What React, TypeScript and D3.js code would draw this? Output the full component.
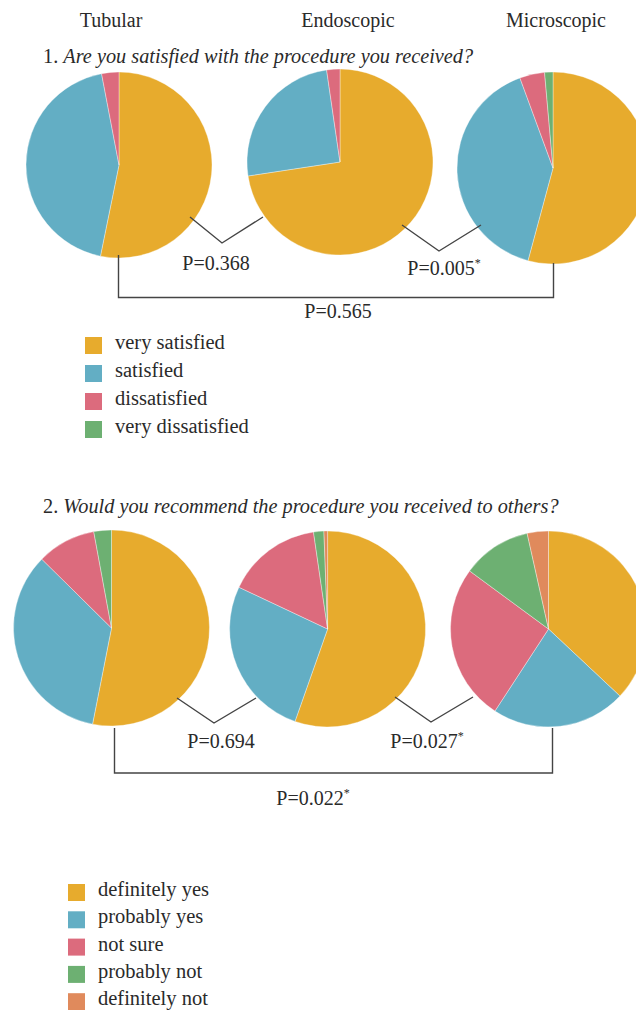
import React, { useEffect, useRef } from 'react';
import * as d3 from 'd3';

// group headers
const groups = ['Tubular', 'Endoscopic', 'Microscopic'];

// question 1
const q1Title = 'Are you satisfied with the procedure you received?';
const q1Categories = ['very satisfied', 'satisfied', 'dissatisfied', 'very dissatisfied'];
const q1Tubular = [53.2, 43.8, 3.0, 0];
const q1Endoscopic = [72.6, 25.1, 2.3, 0];
const q1Microscopic = [54.2, 40.2, 4.2, 1.4];
const q1PValues = [
  { text: 'P=0.368', star: false },
  { text: 'P=0.005', star: true },
  { text: 'P=0.565', star: false },
];

// question 2
const q2Title = 'Would you recommend the procedure you received to others?';
const q2Categories = ['definitely yes', 'probably yes', 'not sure', 'probably not', 'definitely not'];
const q2Tubular = [53.1, 34.3, 9.7, 2.9, 0];
const q2Endoscopic = [55.4, 26.6, 15.7, 1.7, 0.6];
const q2Microscopic = [37.0, 22.2, 25.9, 11.4, 3.5];
const q2PValues = [
  { text: 'P=0.694', star: false },
  { text: 'P=0.027', star: true },
  { text: 'P=0.022', star: true },
];

const palette = ['#E7AB2D', '#63AEC4', '#DC6B7D', '#6DB072', '#E08A5C'];

const W = 636;
const H = 1010;
const FONT = '"Liberation Serif", "DejaVu Serif", serif';
const INK = '#2a2a2a';

const App: React.FC = () => {
  const ref = useRef<SVGSVGElement | null>(null);

  useEffect(() => {
    if (!ref.current) return;
    const svg = d3.select(ref.current);
    svg.selectAll('*').remove();

    const pie = d3.pie<number>().sort(null).value((d) => d);

    const drawPie = (values: number[], cx: number, cy: number, r: number) => {
      const arc = d3.arc<d3.PieArcDatum<number>>().innerRadius(0).outerRadius(r);
      const g = svg.append('g').attr('transform', `translate(${cx},${cy})`);
      g.selectAll('path')
        .data(pie(values).filter((d) => d.value > 0))
        .enter()
        .append('path')
        .attr('d', arc)
        .attr('fill', (d) => palette[d.index])
        .attr('stroke', 'rgba(255,255,255,0.6)')
        .attr('stroke-width', 0.6);
    };

    const line = d3.line<[number, number]>();
    const drawPath = (pts: [number, number][]) => {
      svg
        .append('path')
        .attr('d', line(pts))
        .attr('fill', 'none')
        .attr('stroke', '#444')
        .attr('stroke-width', 1.4);
    };

    const pLabel = (p: { text: string; star: boolean }, x: number, y: number) => {
      const t = svg
        .append('text')
        .attr('x', x)
        .attr('y', y)
        .attr('text-anchor', 'middle')
        .attr('font-family', FONT)
        .attr('font-size', 20)
        .attr('fill', INK);
      t.append('tspan').text(p.text);
      if (p.star) {
        t.append('tspan').attr('font-size', 12).attr('dy', -8).text('*');
      }
    };

    const title = (num: string, text: string, y: number) => {
      const t = svg
        .append('text')
        .attr('x', 43)
        .attr('y', y)
        .attr('font-family', FONT)
        .attr('font-size', 20.3)
        .attr('fill', INK);
      t.append('tspan').text(num + ' ');
      t.append('tspan').attr('font-style', 'italic').text(text);
    };

    const legend = (cats: string[], x: number, y0: number, step: number) => {
      cats.forEach((c, i) => {
        const y = y0 + i * step;
        svg
          .append('rect')
          .attr('x', x)
          .attr('y', y - 12)
          .attr('width', 17)
          .attr('height', 17)
          .attr('fill', palette[i]);
        svg
          .append('text')
          .attr('x', x + 30)
          .attr('y', y)
          .attr('font-family', FONT)
          .attr('font-size', 20.5)
          .attr('fill', INK)
          .text(c);
      });
    };

    // headers
    const headerX = [111, 348, 556];
    groups.forEach((g, i) => {
      svg
        .append('text')
        .attr('x', headerX[i])
        .attr('y', 27)
        .attr('text-anchor', 'middle')
        .attr('font-family', FONT)
        .attr('font-size', 20)
        .attr('fill', INK)
        .text(g);
    });

    // Q1
    title('1.', q1Title, 63);
    drawPie(q1Tubular, 119, 165, 93);
    drawPie(q1Endoscopic, 340, 162, 93);
    drawPie(q1Microscopic, 553, 168, 96);
    drawPath([[190, 217], [222, 243], [263, 217]]);
    drawPath([[402, 225], [439, 251], [481, 225]]);
    drawPath([[118.5, 255], [118.5, 297.5], [553.5, 297.5], [553.5, 263]]);
    pLabel(q1PValues[0], 216, 270);
    pLabel(q1PValues[1], 444, 275);
    pLabel(q1PValues[2], 338, 318);
    legend(q1Categories, 85, 349, 28);

    // Q2
    title('2.', q2Title, 513);
    drawPie(q2Tubular, 111.5, 628, 98);
    drawPie(q2Endoscopic, 327.6, 629, 98);
    drawPie(q2Microscopic, 548.5, 629, 98);
    drawPath([[177, 698], [214, 723], [256, 698]]);
    drawPath([[395, 697], [431, 722], [473, 697]]);
    drawPath([[114.5, 728], [114.5, 773], [552.5, 773], [552.5, 728]]);
    pLabel(q2PValues[0], 221, 748);
    pLabel(q2PValues[1], 427, 748);
    pLabel(q2PValues[2], 313, 805);
    legend(q2Categories, 68, 896, 27.3);
  }, []);

  return (
    <svg
      ref={ref}
      width={W}
      height={H}
      style={{ position: 'absolute', left: 0, top: 0, background: '#fff' }}
    />
  );
};

export default App;
